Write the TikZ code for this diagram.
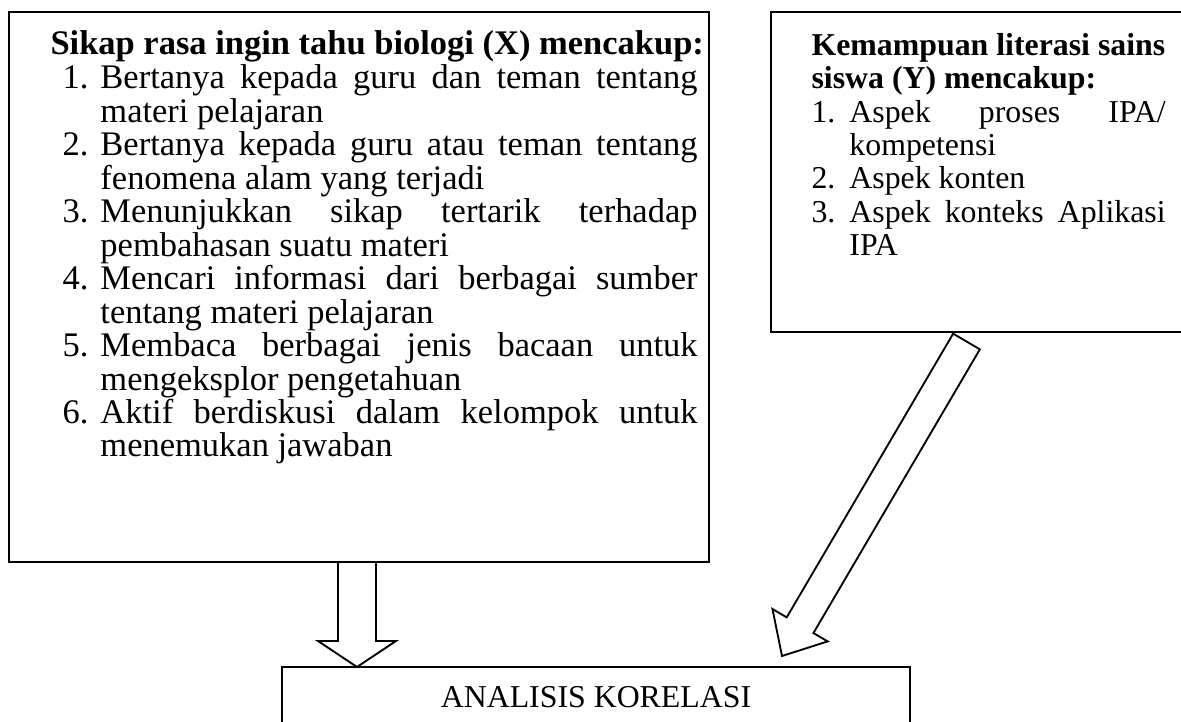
\documentclass[tikz,border=0pt]{standalone}
\usepackage{fontspec}
\setmainfont{Liberation Serif}
\usetikzlibrary{calc,fit}
\tolerance=10000
\hbadness=10000

\newcommand{\butir}[2]{\hangindent=14.3pt\hangafter=1\noindent\makebox[14.3pt][l]{#1}#2\par}
% block arrow: tail, tip, half shaft, half head, head length
\newcommand{\panah}[5]{%
   \coordinate (#1-leher) at ($(#2)!#5!(#1)$);
   \draw[blokpanah] ($(#1)!#3!90:(#2)$) -- ($(#1-leher)!#3!90:(#2)$)
      -- ($(#1-leher)!#4!90:(#2)$) -- (#2)
      -- ($(#1-leher)!#4!-90:(#2)$) -- ($(#1-leher)!#3!-90:(#2)$)
      -- ($(#1)!#3!-90:(#2)$) -- cycle;}

\begin{document}
\begin{tikzpicture}[
   x=0.377pt, y=-0.377pt,
   kotak/.style={draw, line width=0.9pt, inner sep=0pt},
   blokpanah/.style={draw, line width=0.7pt, fill=white, line join=miter},
   kiri/.style={font=\fontsize{13}{12.61}\selectfont, inner sep=0pt, anchor=base west},
   kanan/.style={font=\fontsize{12}{12.61}\selectfont, inner sep=0pt, anchor=base west}]

\useasboundingbox (0,0) rectangle (1181,721);
\clip (0,0) rectangle (1181,721);

\coordinate (x-nw) at (9,12);
\coordinate (x-se) at (709,562);
\coordinate (y-nw) at (771,12);
\coordinate (y-se) at (1200,332);
\coordinate (a-nw) at (282,667);
\coordinate (a-se) at (910,760);

\node[kotak, fit=(x-nw)(x-se)] (xbox) {};
\node[kotak, fit=(y-nw)(y-se)] (ybox) {};
\node[kotak, fit=(a-nw)(a-se)] (abox) {};

\node[kiri, font=\fontsize{13}{12.61}\selectfont\bfseries] (xjudul) at (50,55)
   {Sikap rasa ingin tahu biologi (X) mencakup:};
\node[kiri, text width=239.4pt, align=justify] (xdaftar) at (62,89) {%
   \butir{1.}{Bertanya kepada guru dan teman tentang\linebreak materi pelajaran}
   \butir{2.}{Bertanya kepada guru atau teman tentang\linebreak fenomena alam yang terjadi}
   \butir{3.}{Menunjukkan sikap tertarik terhadap\linebreak pembahasan suatu materi}
   \butir{4.}{Mencari informasi dari berbagai sumber\linebreak tentang materi pelajaran}
   \butir{5.}{Membaca berbagai jenis bacaan untuk\linebreak mengeksplor pengetahuan}
   \butir{6.}{Aktif berdiskusi dalam kelompok untuk\linebreak menemukan jawaban}};

\node[kanan, font=\fontsize{12}{12.61}\selectfont\bfseries, align=left] (yjudul) at (811,89)
   {Kemampuan literasi sains\\siswa (Y) mencakup:};
\node[kanan, text width=133.5pt, align=justify] (ydaftar) at (811,122) {%
   \butir{1.}{Aspek proses IPA/\linebreak kompetensi}
   \butir{2.}{Aspek konten}
   \butir{3.}{Aspek konteks Aplikasi\linebreak IPA}};

\node[font=\fontsize{12}{14}\selectfont, inner sep=0pt, anchor=base] (ajudul) at (596,707)
   {ANALISIS KORELASI};

\coordinate (xekor) at (357,562);
\coordinate (xujung) at (357,667);
\coordinate (yekor) at (966.5,341.5);
\coordinate (yujung) at (782,656);

\panah{xekor}{xujung}{7.16pt}{14.7pt}{9.8pt}
\panah{yekor}{yujung}{5.84pt}{12.06pt}{13.46pt}

\end{tikzpicture}
\end{document}
